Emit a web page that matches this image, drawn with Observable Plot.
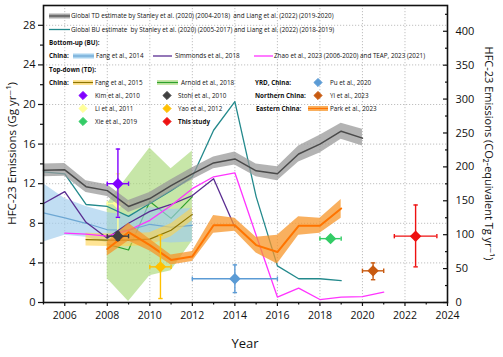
<!DOCTYPE html>
<html>
<head>
<meta charset="utf-8">
<script src="https://cdn.jsdelivr.net/npm/d3@7"></script>
<script src="https://cdn.jsdelivr.net/npm/@observablehq/plot@0.6"></script>
<style>
  html, body { margin: 0; padding: 0; background: #fff; }
  #chart svg { display: block; }
</style>
</head>
<body>
<div id="chart"></div>
<script>
// ---------------- DATA (Gg yr-1) ----------------
const GWP = 14.6; // Gg -> Tg CO2-eq

// Global TD estimate (Stanley 2020 / Liang 2022)
const tdYears = [2005,2006,2007,2008,2009,2010,2011,2012,2013,2014,2015,2016,2017,2018,2019,2020];
const tdMid   = [13.35,13.4,11.7,11.3,9.7,10.5,11.8,13.0,14.1,14.5,13.3,13.0,15.0,16.0,17.3,16.6];
const tdLo    = [12.7,12.75,11.1,10.7,9.1,9.9,11.2,12.4,13.5,13.9,12.7,12.3,14.2,15.1,16.5,15.8];
const tdHi    = [14.0,14.05,12.3,11.9,10.3,11.1,12.4,13.6,14.7,15.2,14.0,13.7,15.8,16.9,18.1,17.5];

// Global BU estimate
const buYears = [2005,2006,2007,2008,2009,2010,2011,2012,2013,2014,2015,2016,2017,2018,2019];
const buVals  = [13.2,13.0,9.9,9.7,8.7,10.0,11.3,12.7,17.4,20.3,10.7,3.7,2.4,2.4,2.2];

// Bottom-up China: Fang et al., 2014
const fang14Years = [2005,2006,2007,2008,2009,2010,2011,2012];
const fang14Mid   = [9.05,8.55,8.0,7.35,7.3,7.9,7.6,7.8];
const fang14Lo    = [6.1,6.8,6.6,6.0,5.9,6.2,6.0,6.1];
const fang14Hi    = [12.0,10.5,9.7,9.1,8.8,9.6,9.4,9.5];

// Simmonds et al., 2018
const simYears = [2005,2006,2007,2008,2009,2010,2011,2012,2013,2014];
const simVals  = [10.0,11.2,8.1,6.5,8.0,9.2,9.9,10.8,12.5,7.6];

// Zhao et al., 2023 and TEAP, 2023
const zhaoYears = [2006,2007,2008,2009,2010,2011,2012,2013,2014,2015,2016,2017,2018,2019,2020,2021];
const zhaoVals  = [7.0,6.9,6.7,7.3,8.3,9.8,11.5,12.7,13.1,6.8,0.55,1.45,0.3,0.55,0.6,1.05];

// Top-down China: Fang et al., 2015
const fang15Years = [2007,2008,2009,2010,2011,2012];
const fang15Mid   = [6.35,6.3,6.3,6.4,7.3,8.9];
const fang15Lo    = [5.7,5.65,5.65,5.75,6.65,8.25];
const fang15Hi    = [7.0,6.95,6.95,7.05,7.95,9.55];

// Arnold et al., 2018
const arnYears = [2008,2009,2010,2011,2012];
const arnMid   = [5.9,5.3,10.2,8.5,10.7];
const arnLo    = [2.4,0.1,2.7,3.2,6.2];
const arnHi    = [10.0,12.8,15.6,13.5,15.3];

// Eastern China: Park et al., 2023
const parkYears = [2008,2009,2010,2011,2012,2013,2014,2015,2016,2017,2018,2019];
const parkMid   = [5.4,7.1,5.8,4.3,4.65,7.8,7.8,5.8,5.1,7.75,7.75,9.5];
const parkLo    = [4.7,6.2,5.2,3.8,4.15,7.0,7.2,5.0,3.9,6.8,7.0,8.5];
const parkHi    = [6.1,8.0,6.4,4.8,5.15,8.8,8.5,6.6,6.8,8.65,8.5,10.4];

// Single estimates with error bars
const ptNames = ["Li et al., 2011","Kim et al., 2010","Stohl et al., 2010","Yao et al., 2012","Pu et al., 2020","Xie et al., 2019","Yi et al., 2023","This study"];
const ptX     = [2008.5, 2008.5, 2008.5, 2010.5, 2014, 2018.5, 2020.5, 2022.5];
const ptY     = [10.0, 12.0, 6.7, 3.6, 2.4, 6.45, 3.2, 6.7];
const ptYlo   = [7.0, 8.6, 6.3, 0.4, 1.0, 6.35, 2.3, 3.6];
const ptYhi   = [13.0, 15.5, 7.1, 6.8, 3.8, 6.55, 4.0, 9.85];
const ptXlo   = [2008, 2008, 2008, 2010, 2012, 2018, 2020, 2021.5];
const ptXhi   = [2009, 2009, 2009, 2011, 2016, 2019, 2021, 2023.5];

// tick values
const xMajor = [2006,2008,2010,2012,2014,2016,2018,2020,2022,2024];
const xMinor = [2005,2007,2009,2011,2013,2015,2017,2019,2021,2023];
const yMajor = [0,4,8,12,16,20,24,28];
const yMinor = [2,6,10,14,18,22,26];
const rMajor = [0,50,100,150,200,250,300,350,400];
const rMinor = [25,75,125,175,225,275,325,375,425];

// ---------------- STYLES ----------------
const C = {
  tdBand: "#9a9a9a", tdLine: "#4a4a4a", bu: "#23898c",
  fang14Band: "#9fcdec", fang14Line: "#6da7d3",
  sim: "#5a2d91", zhao: "#ff33ff",
  fang15Band: "#ffd24d", fang15Line: "#8c7400",
  arnBand: "#a9d97a", arnLine: "#2ca02c",
  parkBand: "#f7962a", parkLine: "#ff7400"
};
const ptColors = ["#ffff99","#8000ff","#404040","#ffc000","#5b9bd5","#33cc66","#c85a10","#ee1111"];

const band = (xs, mid, lo, hi) => xs.map((x, i) => ({x, y: mid[i], lo: lo[i], hi: hi[i]}));
const series = (xs, ys) => xs.map((x, i) => ({x, y: ys[i]}));

const td = band(tdYears, tdMid, tdLo, tdHi);
const bu = series(buYears, buVals);
const fang14 = band(fang14Years, fang14Mid, fang14Lo, fang14Hi);
const sim = series(simYears, simVals);
const zhao = series(zhaoYears, zhaoVals);
const fang15 = band(fang15Years, fang15Mid, fang15Lo, fang15Hi);
const arn = band(arnYears, arnMid, arnLo, arnHi);
const park = band(parkYears, parkMid, parkLo, parkHi);
const pts = ptNames.map((n, i) => ({name: n, x: ptX[i], y: ptY[i], ylo: ptYlo[i], yhi: ptYhi[i], xlo: ptXlo[i], xhi: ptXhi[i], color: ptColors[i]}));
const ptsBack = pts.filter(d => d.name.startsWith("Li"));
const ptsFront = pts.filter(d => !d.name.startsWith("Li"));

const hcap = {draw(ctx, size) { const r = Math.sqrt(size / Math.PI); ctx.moveTo(-r, 0); ctx.lineTo(r, 0); }};
const vcap = {draw(ctx, size) { const r = Math.sqrt(size / Math.PI); ctx.moveTo(0, -r); ctx.lineTo(0, r); }};

const errMarks = (data) => [
  Plot.ruleX(data, {x: "x", y1: "ylo", y2: "yhi", stroke: "color", strokeWidth: 1.4}),
  Plot.ruleY(data, {y: "y", x1: "xlo", x2: "xhi", stroke: "color", strokeWidth: 1.4}),
  Plot.dot(data, {x: "x", y: "ylo", symbol: hcap, r: 2.2, stroke: "color", fill: "none", strokeWidth: 1.4}),
  Plot.dot(data, {x: "x", y: "yhi", symbol: hcap, r: 2.2, stroke: "color", fill: "none", strokeWidth: 1.4}),
  Plot.dot(data, {x: "xlo", y: "y", symbol: vcap, r: 2.2, stroke: "color", fill: "none", strokeWidth: 1.4}),
  Plot.dot(data, {x: "xhi", y: "y", symbol: vcap, r: 2.2, stroke: "color", fill: "none", strokeWidth: 1.4}),
  Plot.dot(data, {x: "x", y: "y", symbol: "diamond2", r: 4.2, fill: "color", stroke: "color"})
];

const FONT = "'Open Sans', 'DejaVu Sans', sans-serif";

const chart = Plot.plot({
  width: 503, height: 357,
  marginLeft: 43, marginRight: 56, marginTop: 5, marginBottom: 55,
  style: {fontFamily: FONT, fontSize: "10.5px", color: "#111", background: "#fff"},
  x: {domain: [2005, 2024], axis: null},
  y: {domain: [0, 30], axis: null},
  marks: [
    Plot.gridX(xMajor.filter(d => d < 2024), {stroke: "#b0b0b0", strokeOpacity: 1, strokeDasharray: "1.2,1.8", strokeWidth: 0.8}),
    Plot.gridY(yMajor.filter(d => d > 0), {stroke: "#b0b0b0", strokeOpacity: 1, strokeDasharray: "1.2,1.8", strokeWidth: 0.8}),

    // Arnold (green band)
    Plot.areaY(arn, {x: "x", y1: "lo", y2: "hi", fill: C.arnBand, fillOpacity: 0.65}),
    Plot.lineY(arn, {x: "x", y: "y", stroke: C.arnLine, strokeWidth: 1.2}),
    // Fang 2014 (blue band)
    Plot.areaY(fang14, {x: "x", y1: "lo", y2: "hi", fill: C.fang14Band, fillOpacity: 0.65}),
    Plot.lineY(fang14, {x: "x", y: "y", stroke: C.fang14Line, strokeWidth: 1.2}),
    // Fang 2015 (yellow band)
    Plot.areaY(fang15, {x: "x", y1: "lo", y2: "hi", fill: C.fang15Band, fillOpacity: 0.6}),
    Plot.lineY(fang15, {x: "x", y: "y", stroke: C.fang15Line, strokeWidth: 1.2}),
    // Li et al. (partly hidden behind the global band)
    ...errMarks(ptsBack),
    // Global BU
    Plot.lineY(bu, {x: "x", y: "y", stroke: C.bu, strokeWidth: 1.3}),
    // Global TD
    Plot.areaY(td, {x: "x", y1: "lo", y2: "hi", fill: C.tdBand, fillOpacity: 0.75}),
    Plot.lineY(td, {x: "x", y: "y", stroke: C.tdLine, strokeWidth: 1.5}),
    // Simmonds
    Plot.lineY(sim, {x: "x", y: "y", stroke: C.sim, strokeWidth: 1.3}),
    // Zhao / TEAP
    Plot.lineY(zhao, {x: "x", y: "y", stroke: C.zhao, strokeWidth: 1.3}),
    // Park (orange band)
    Plot.areaY(park, {x: "x", y1: "lo", y2: "hi", fill: C.parkBand, fillOpacity: 0.75}),
    Plot.lineY(park, {x: "x", y: "y", stroke: C.parkLine, strokeWidth: 2}),

    // Point estimates with error bars
    ...errMarks(ptsFront),

    // Axes
    Plot.axisX(xMajor, {tickSize: 4, tickPadding: 5, tickFormat: d => String(d), fontSize: 10.5, label: null, strokeWidth: 1.2}),
    Plot.axisX(xMinor, {tickSize: 2.5, tickFormat: () => "", label: null, strokeWidth: 1.2}),
    Plot.axisY(yMajor, {tickSize: 5, tickPadding: 3, tickFormat: d => String(d), fontSize: 11, label: null, strokeWidth: 1.2}),
    Plot.axisY(yMinor, {tickSize: 3, tickFormat: () => "", label: null, strokeWidth: 1.2}),
    Plot.axisY(rMajor.map(t => t / GWP), {anchor: "right", tickSize: 0, tickPadding: 8, tickFormat: d => String(Math.round(d * GWP)), fontSize: 11, label: null}),
    Plot.axisY(rMajor.map(t => t / GWP), {anchor: "right", tickSize: 5, dx: -5, tickFormat: () => "", label: null, strokeWidth: 1.2}),
    Plot.axisY(rMinor.map(t => t / GWP), {anchor: "right", tickSize: 3, dx: -3, tickFormat: () => "", label: null, strokeWidth: 1.2}),
    Plot.frame({stroke: "#111", strokeWidth: 1.6})
  ]
});

document.getElementById("chart").appendChild(chart);

// ---------------- Titles & legend ----------------
const svg = d3.select(chart);
const g = svg.append("g").attr("font-family", FONT).attr("fill", "#111");

g.append("text").attr("transform", "translate(12,153.5) rotate(-90)")
  .attr("text-anchor", "middle").attr("dy", "0.35em").attr("font-size", 11.5)
  .text("HFC-23 Emissions (Gg yr⁻¹)");
g.append("text").attr("transform", "translate(489,153.5) rotate(90)")
  .attr("text-anchor", "middle").attr("dy", "0.35em").attr("font-size", 11)
  .text("HFC-23 Emissions (CO₂-equivalent Tg yr⁻¹)");
g.append("text").attr("x", 245).attr("y", 348).attr("text-anchor", "middle").attr("font-size", 13)
  .text("Year");

const L = g.append("g").attr("font-size", 6.3).attr("text-anchor", "start");
const txt = (x, y, s, bold) => L.append("text").attr("x", x).attr("y", y).attr("dy", "0.35em")
  .attr("text-anchor", "start").attr("font-weight", bold ? "bold" : null).text(s);
const lineSw = (x1, x2, y, color, w) => L.append("line").attr("x1", x1).attr("x2", x2).attr("y1", y).attr("y2", y)
  .attr("stroke", color).attr("stroke-width", w || 1.3);
const bandSw = (x1, x2, y, fill, op, line) => {
  L.append("rect").attr("x", x1).attr("y", y - 2.5).attr("width", x2 - x1).attr("height", 5).attr("fill", fill).attr("fill-opacity", op);
  if (line) lineSw(x1, x2, y, line, 1.2);
};
const diam = (x, y, color) => L.append("path").attr("transform", `translate(${x},${y})`)
  .attr("d", d3.symbol(d3.symbolDiamond2, 42)()).attr("fill", color).attr("stroke", color);

bandSw(49, 70, 16, C.tdBand, 0.85, C.tdLine);
txt(71, 16, "Global TD estimate by Stanley et al. (2020) (2004-2018)  and Liang et al. (2022) (2019-2020)");
lineSw(49, 70, 29.5, C.bu);
txt(71, 29.5, "Global BU estimate  by Stanley et al. (2020) (2005-2017) and Liang et al. (2022) (2018-2019)");
txt(49, 42.5, "Bottom-up (BU):", true);
txt(49, 56, "China:", true);
bandSw(73, 94, 56, C.fang14Band, 0.9, C.fang14Line);
txt(96, 56, "Fang et al., 2014");
lineSw(153, 172, 56, C.sim);
txt(175, 56, "Simmonds et al., 2018");
lineSw(254, 273, 56, C.zhao);
txt(274, 56, "Zhao et al., 2023 (2006-2020) and TEAP, 2023 (2021)");
txt(49, 69.5, "Top-down (TD):", true);
txt(49, 82.5, "China:", true);
bandSw(73, 93, 82.5, C.fang15Band, 0.6, C.fang15Line);
txt(95, 82.5, "Fang et al., 2015");
bandSw(157, 178, 82.5, C.arnBand, 0.65, C.arnLine);
txt(181, 82.5, "Arnold et al., 2018");
txt(255, 82.5, "YRD, China:", true);
diam(318, 82.5, ptColors[4]);
txt(330, 82.5, "Pu et al., 2020");

diam(83, 95.5, ptColors[1]);
txt(95, 95.5, "Kim et al., 2010");
diam(167, 95.5, ptColors[2]);
txt(178, 95.5, "Stohl et al., 2010");
txt(255, 95.5, "Northern China:", true);
diam(318, 95.5, ptColors[6]);
txt(330, 95.5, "Yi et al., 2023");

diam(83, 108.5, ptColors[0]);
txt(95, 108.5, "Li et al., 2011");
diam(167, 108.5, ptColors[3]);
txt(178, 108.5, "Yao et al., 2012");
txt(256, 108.5, "Eastern China:", true);
bandSw(308, 328, 108.5, C.parkBand, 0.75, C.parkLine);
txt(330, 108.5, "Park et al., 2023");

diam(83, 121.5, ptColors[5]);
txt(95, 121.5, "Xie et al., 2019");
diam(167, 121.5, ptColors[7]);
txt(178, 121.5, "This study", true);
</script>
</body>
</html>
